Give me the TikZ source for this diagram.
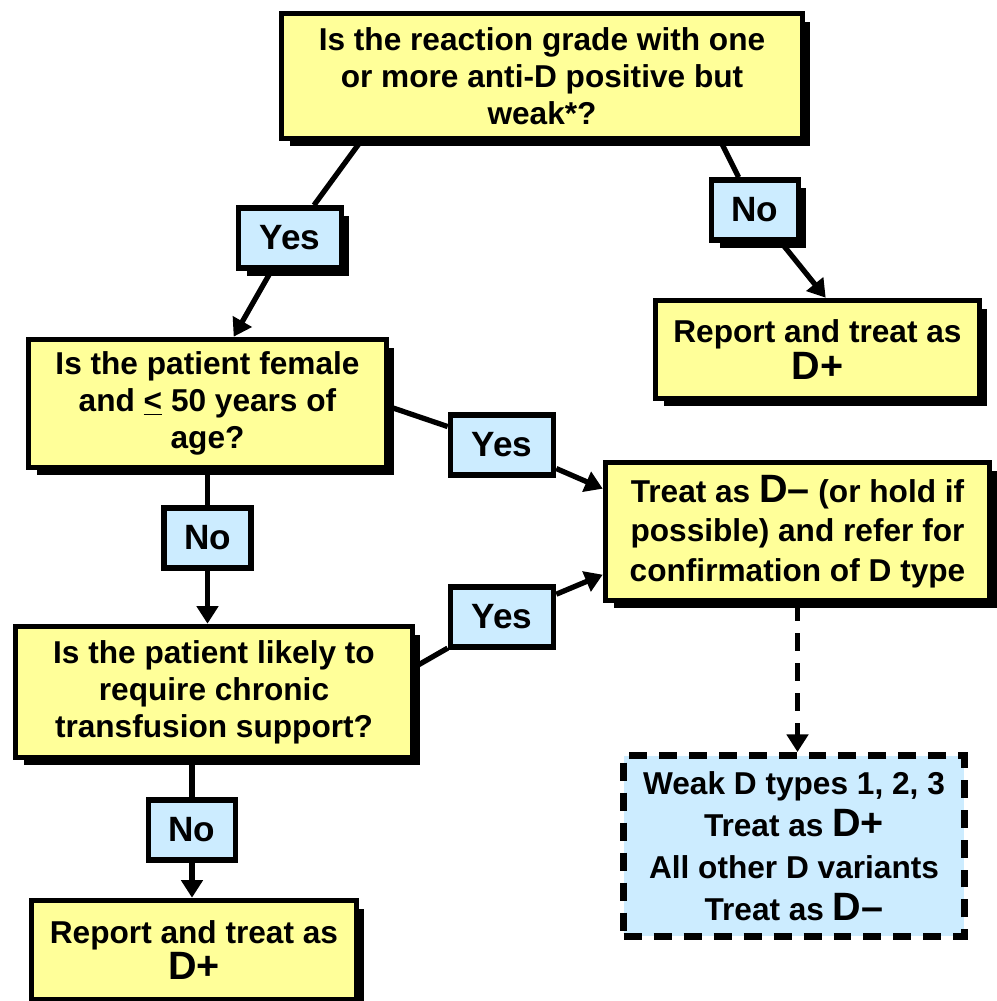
\documentclass[tikz,border=0pt]{standalone}
\usepackage{fontspec}
\setmainfont{Liberation Sans}
\usetikzlibrary{arrows.meta,positioning,shadows}
\definecolor{Ink}{HTML}{000000}
\definecolor{Butter}{HTML}{FFFF99}
\definecolor{Sky}{HTML}{CCECFF}
\newcommand\boxfont{\fontsize{18}{21}\selectfont\bfseries}
\newcommand\ansfont{\fontsize{20}{24}\selectfont\bfseries}
\newcommand\Dplus{{\fontsize{22.5}{21}\selectfont D+}}
\newcommand\Dminus{{\fontsize{22.5}{21}\selectfont D–}}
\tikzset{
  >={Triangle[length=10pt,width=12pt]},
  qbox/.style={draw=Ink,line width=3.2pt,fill=Butter,align=center,font=\boxfont,inner sep=2pt},
  dropped/.style={drop shadow={shadow xshift=.16cm,shadow yshift=-.16cm,fill=Ink,opacity=1}},
  ans/.style={draw=Ink,line width=3.2pt,fill=Sky,font=\ansfont,minimum height=1.2cm,inner sep=1pt},
  yeslab/.style={ans,minimum width=2.06cm},
  nolab/.style={ans,minimum width=1.74cm},
  vbox/.style={draw=Ink,line width=4pt,fill=Sky,align=center,inner sep=2pt,dash pattern=on .36cm off .24cm},
  link/.style={->,draw=Ink,line width=3pt},
  vlink/.style={link,line width=3.4pt,dash pattern=on .36cm off .24cm}
}
\begin{document}
\begin{tikzpicture}[x=0.02cm,y=-0.02cm]
  \useasboundingbox (0,0) rectangle (997,1001);
  % question and outcome boxes
  \node[qbox,dropped,minimum width=10.42cm,minimum height=2.5cm] (q1) at (542,76)
    {Is the reaction grade with one\\or more anti-D positive but\\weak*?};
  \node[qbox,dropped,minimum width=6.48cm,minimum height=1.96cm] (rep1) at (817.5,349.5)
    {Report and treat as\\\Dplus};
  \node[qbox,dropped,minimum width=7.16cm,minimum height=2.56cm] (q2) at (207.5,403.5)
    {Is the patient female\\and \underline{<} 50 years of\\age?};
  \node[qbox,dropped,minimum width=7.68cm,minimum height=2.76cm,font=\boxfont\fontsize{18}{22.5}\selectfont] (treat) at (797.5,531.5)
    {Treat as \Dminus{} (or hold if\\possible) and refer for\\confirmation of D type};
  \node[qbox,dropped,minimum width=7.94cm,minimum height=2.62cm] (q3) at (214,692)
    {Is the patient likely to\\require chronic\\transfusion support?};
  \node[qbox,dropped,minimum width=6.5cm,minimum height=1.98cm] (rep2) at (194,950)
    {Report and treat as\\\Dplus};
  \node[vbox,minimum width=6.82cm,minimum height=3.62cm,font=\boxfont\fontsize{18}{24}\selectfont] (dbox) at (794,846)
    {Weak D types 1, 2, 3\\Treat as \Dplus\\All other D variants\\Treat as \Dminus};
  % answer labels
  \node[yeslab,dropped] (yes1) at (290,238) {Yes};
  \node[nolab,dropped] (no1) at (755,210) {No};
  \node[yeslab] (yes2) at (502,445) {Yes};
  \node[nolab] (no2) at (207.5,538) {No};
  \node[yeslab] (yes3) at (502,617) {Yes};
  \node[nolab] (no3) at (192,830) {No};
  % connectors
  \draw[link] ([xshift=1.64cm]q1.south west) -- (yes1) -- ([xshift=4.16cm]q2.north west);
  \draw[link] ([xshift=8.84cm]q1.south west) -- (no1) -- ([xshift=3.46cm]rep1.north west);
  \draw[link] ([yshift=-1.4cm]q2.north east) -- (yes2) -- ([yshift=-.58cm]treat.north west);
  \draw[link] (q2.south) -- (no2) -- (q2.south |- q3.north);
  \draw[link] ([yshift=-.86cm]q3.north east) -- (yes3) -- ([yshift=-2.3cm]treat.north west);
  \draw[link] (q3.south -| no3) -- (no3) -- (rep2.north -| no3);
  \draw[vlink] (treat.south) -- (treat.south |- dbox.north);
\end{tikzpicture}
\end{document}
